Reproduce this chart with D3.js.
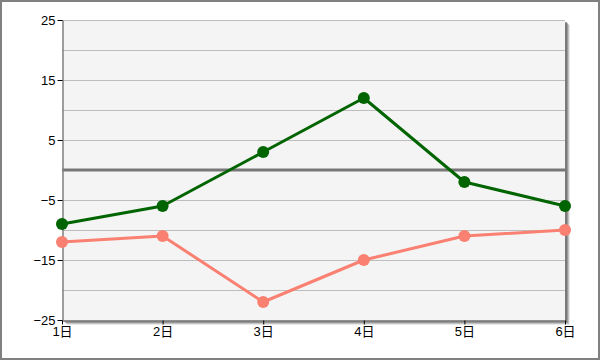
<!DOCTYPE html>
<html><head><meta charset="utf-8">
<script src="https://cdn.jsdelivr.net/npm/d3@7"></script>
<style>body{margin:0;background:#fff}svg{display:block}</style>
</head><body>
<svg id="c" width="600" height="360"></svg>
<script>
const categories = ["1日","2日","3日","4日","5日","6日"];
const seriesGreen = [-9,-6,3,12,-2,-6];
const seriesSalmon = [-12,-11,-22,-15,-11,-10];
const yTickLabels = [25,15,5,-5,-15,-25];
const gridValues = [25,20,15,10,5,0,-5,-10,-15,-20,-25];

const svg = d3.select("#c");
const L=62,R=565,T=20,B=320;
const x = d3.scalePoint().domain(categories).range([L,R]);
const y = d3.scaleLinear().domain([-25,25]).range([B,T]);

svg.append("rect").attr("x",1).attr("y",1).attr("width",598).attr("height",358)
  .attr("fill","#fff").attr("stroke","#808080").attr("stroke-width",2);

// shadow
[[5,0.15],[4,0.3],[3,0.5],[2,0.7]].forEach(([o,a])=>{
  svg.append("rect").attr("x",L+o).attr("y",T+o).attr("width",R-L).attr("height",B-T)
    .attr("fill","#6e6e6e").attr("opacity",a);
});
svg.append("rect").attr("x",L).attr("y",T).attr("width",R-L).attr("height",B-T).attr("fill","#f4f4f4");

svg.append("g").selectAll("line").data(gridValues.filter(v=>v!==0)).join("line")
  .attr("x1",L).attr("x2",R).attr("y1",d=>y(d)+0.5).attr("y2",d=>y(d)+0.5)
  .attr("stroke","#bdbdbd").attr("stroke-width",1);
svg.append("line").attr("x1",L).attr("x2",R).attr("y1",y(0)).attr("y2",y(0))
  .attr("stroke","#777").attr("stroke-width",3);

// left axis
const ya = svg.append("g").attr("transform",`translate(${L+0.5},0)`)
  .call(d3.axisLeft(y).tickValues(yTickLabels).tickSize(5).tickSizeOuter(0).tickPadding(2));
ya.attr("font-size",null).attr("font-family",null);
ya.select(".domain").attr("stroke","#808080").attr("stroke-width",1.5);
ya.selectAll(".tick line").attr("stroke","#000");
ya.selectAll("text").style("font-family","'Liberation Sans',Arial,sans-serif").style("font-size","13px").attr("fill","#000");

const xa = svg.append("g").attr("transform",`translate(0,${B+0.5})`)
  .call(d3.axisBottom(x).tickSize(4).tickSizeOuter(0).tickPadding(2));
xa.attr("font-size",null).attr("font-family",null);
xa.select(".domain").attr("stroke","#808080").attr("stroke-width",1.5);
xa.selectAll(".tick line").attr("stroke","#000");
xa.selectAll("text").style("font-family","'Liberation Sans','Noto Sans CJK JP',sans-serif").style("font-size","13px").attr("fill","#000");

function series(vals,color){
  const line = d3.line().x((d,i)=>x(categories[i])).y(d=>y(d));
  svg.append("path").datum(vals).attr("d",line).attr("fill","none")
    .attr("stroke",color).attr("stroke-width",3).attr("stroke-linejoin","round");
  svg.append("g").selectAll("circle").data(vals).join("circle")
    .attr("cx",(d,i)=>x(categories[i])).attr("cy",d=>y(d)).attr("r",6).attr("fill",color);
}
series(seriesSalmon,"#fa8072");
series(seriesGreen,"#006400");
</script>
</body></html>
